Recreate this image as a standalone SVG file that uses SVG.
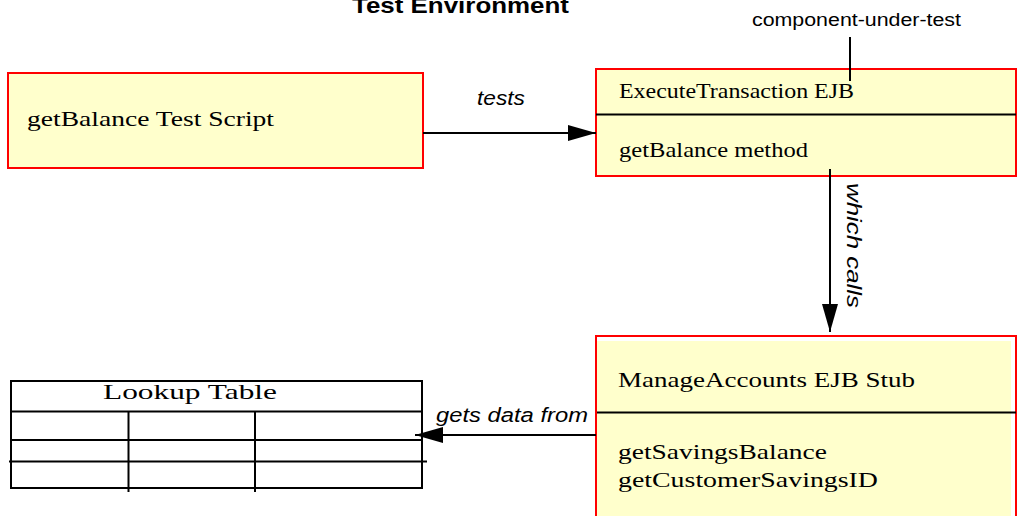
<svg xmlns="http://www.w3.org/2000/svg" width="1018" height="516" viewBox="0 0 1018 516">
<defs>
<style>
.box{fill:#ffffcc;stroke:#ff0000;stroke-width:2}
.div{stroke:#000;stroke-width:2}
.serif{font-family:"Liberation Serif","Times New Roman",serif;font-size:22px;fill:#000}
.sans{font-family:"Liberation Sans",Arial,sans-serif;fill:#000}
.lbl{font-style:italic;font-size:20px}
.conn{stroke:#000;stroke-width:2;fill:none}
.tbl{stroke:#000;stroke-width:2;fill:none}
</style>
<marker id="ah" markerUnits="userSpaceOnUse" markerWidth="30" markerHeight="18" refX="28" refY="9" orient="auto">
<path d="M0,1 L28,9 L0,17 Z" fill="#000"/>
</marker>
</defs>
<rect width="1018" height="516" fill="#fff"/>
<text class="sans" x="352" y="13" font-size="22" font-weight="bold" textLength="217" lengthAdjust="spacingAndGlyphs">Test Environment</text>
<g id="script">
<rect class="box" x="8" y="73" width="415" height="95"/>
<text class="serif" x="27" y="126" textLength="247" lengthAdjust="spacingAndGlyphs">getBalance Test Script</text>
</g>
<g id="execute">
<rect class="box" x="596" y="69" width="420" height="107"/>
<line class="div" x1="596" y1="114.5" x2="1016" y2="114.5"/>
<text class="serif" x="619" y="98" textLength="235" lengthAdjust="spacingAndGlyphs">ExecuteTransaction EJB</text>
<text class="serif" x="619" y="157" textLength="189" lengthAdjust="spacingAndGlyphs">getBalance method</text>
</g>
<g id="manage">
<rect x="596" y="336" width="420" height="190" fill="none" stroke="#ff0000" stroke-width="2"/>
<rect x="597" y="341" width="414" height="175" fill="#ffffcc"/>
<line class="div" x1="597" y1="412.5" x2="1016" y2="412.5"/>
<text class="serif" x="618" y="387" textLength="297" lengthAdjust="spacingAndGlyphs">ManageAccounts EJB Stub</text>
<text class="serif" x="618" y="459" textLength="209" lengthAdjust="spacingAndGlyphs">getSavingsBalance</text>
<text class="serif" x="618" y="487" textLength="260" lengthAdjust="spacingAndGlyphs">getCustomerSavingsID</text>
</g>
<g id="lookup">
<rect class="tbl" x="11" y="381" width="411" height="107"/>
<line class="tbl" x1="11" y1="411.5" x2="422" y2="411.5"/>
<line class="tbl" x1="11" y1="440" x2="422" y2="440"/>
<line class="tbl" x1="9" y1="461.5" x2="427" y2="461.5"/>
<line class="tbl" x1="128.5" y1="411.5" x2="128.5" y2="492"/>
<line class="tbl" x1="255" y1="411.5" x2="255" y2="492"/>
<text class="serif" x="103" y="399" textLength="174" lengthAdjust="spacingAndGlyphs">Lookup Table</text>
</g>
<g id="connectors">
<line class="conn" x1="423" y1="133" x2="596" y2="133" marker-end="url(#ah)"/>
<text class="sans lbl" x="477" y="105" textLength="48" lengthAdjust="spacingAndGlyphs">tests</text>
<line class="conn" x1="830" y1="169" x2="830" y2="332" marker-end="url(#ah)"/>
<text class="sans lbl" transform="translate(847,183) rotate(90)" x="0" y="0" textLength="125" lengthAdjust="spacingAndGlyphs">which calls</text>
<line class="conn" x1="596" y1="435" x2="415" y2="435" marker-end="url(#ah)"/>
<text class="sans lbl" x="436" y="422" textLength="152" lengthAdjust="spacingAndGlyphs">gets data from</text>
<line class="conn" x1="850" y1="37" x2="850" y2="81"/>
<text class="sans" x="752" y="26" font-size="18" textLength="209" lengthAdjust="spacingAndGlyphs">component-under-test</text>
</g>
</svg>
